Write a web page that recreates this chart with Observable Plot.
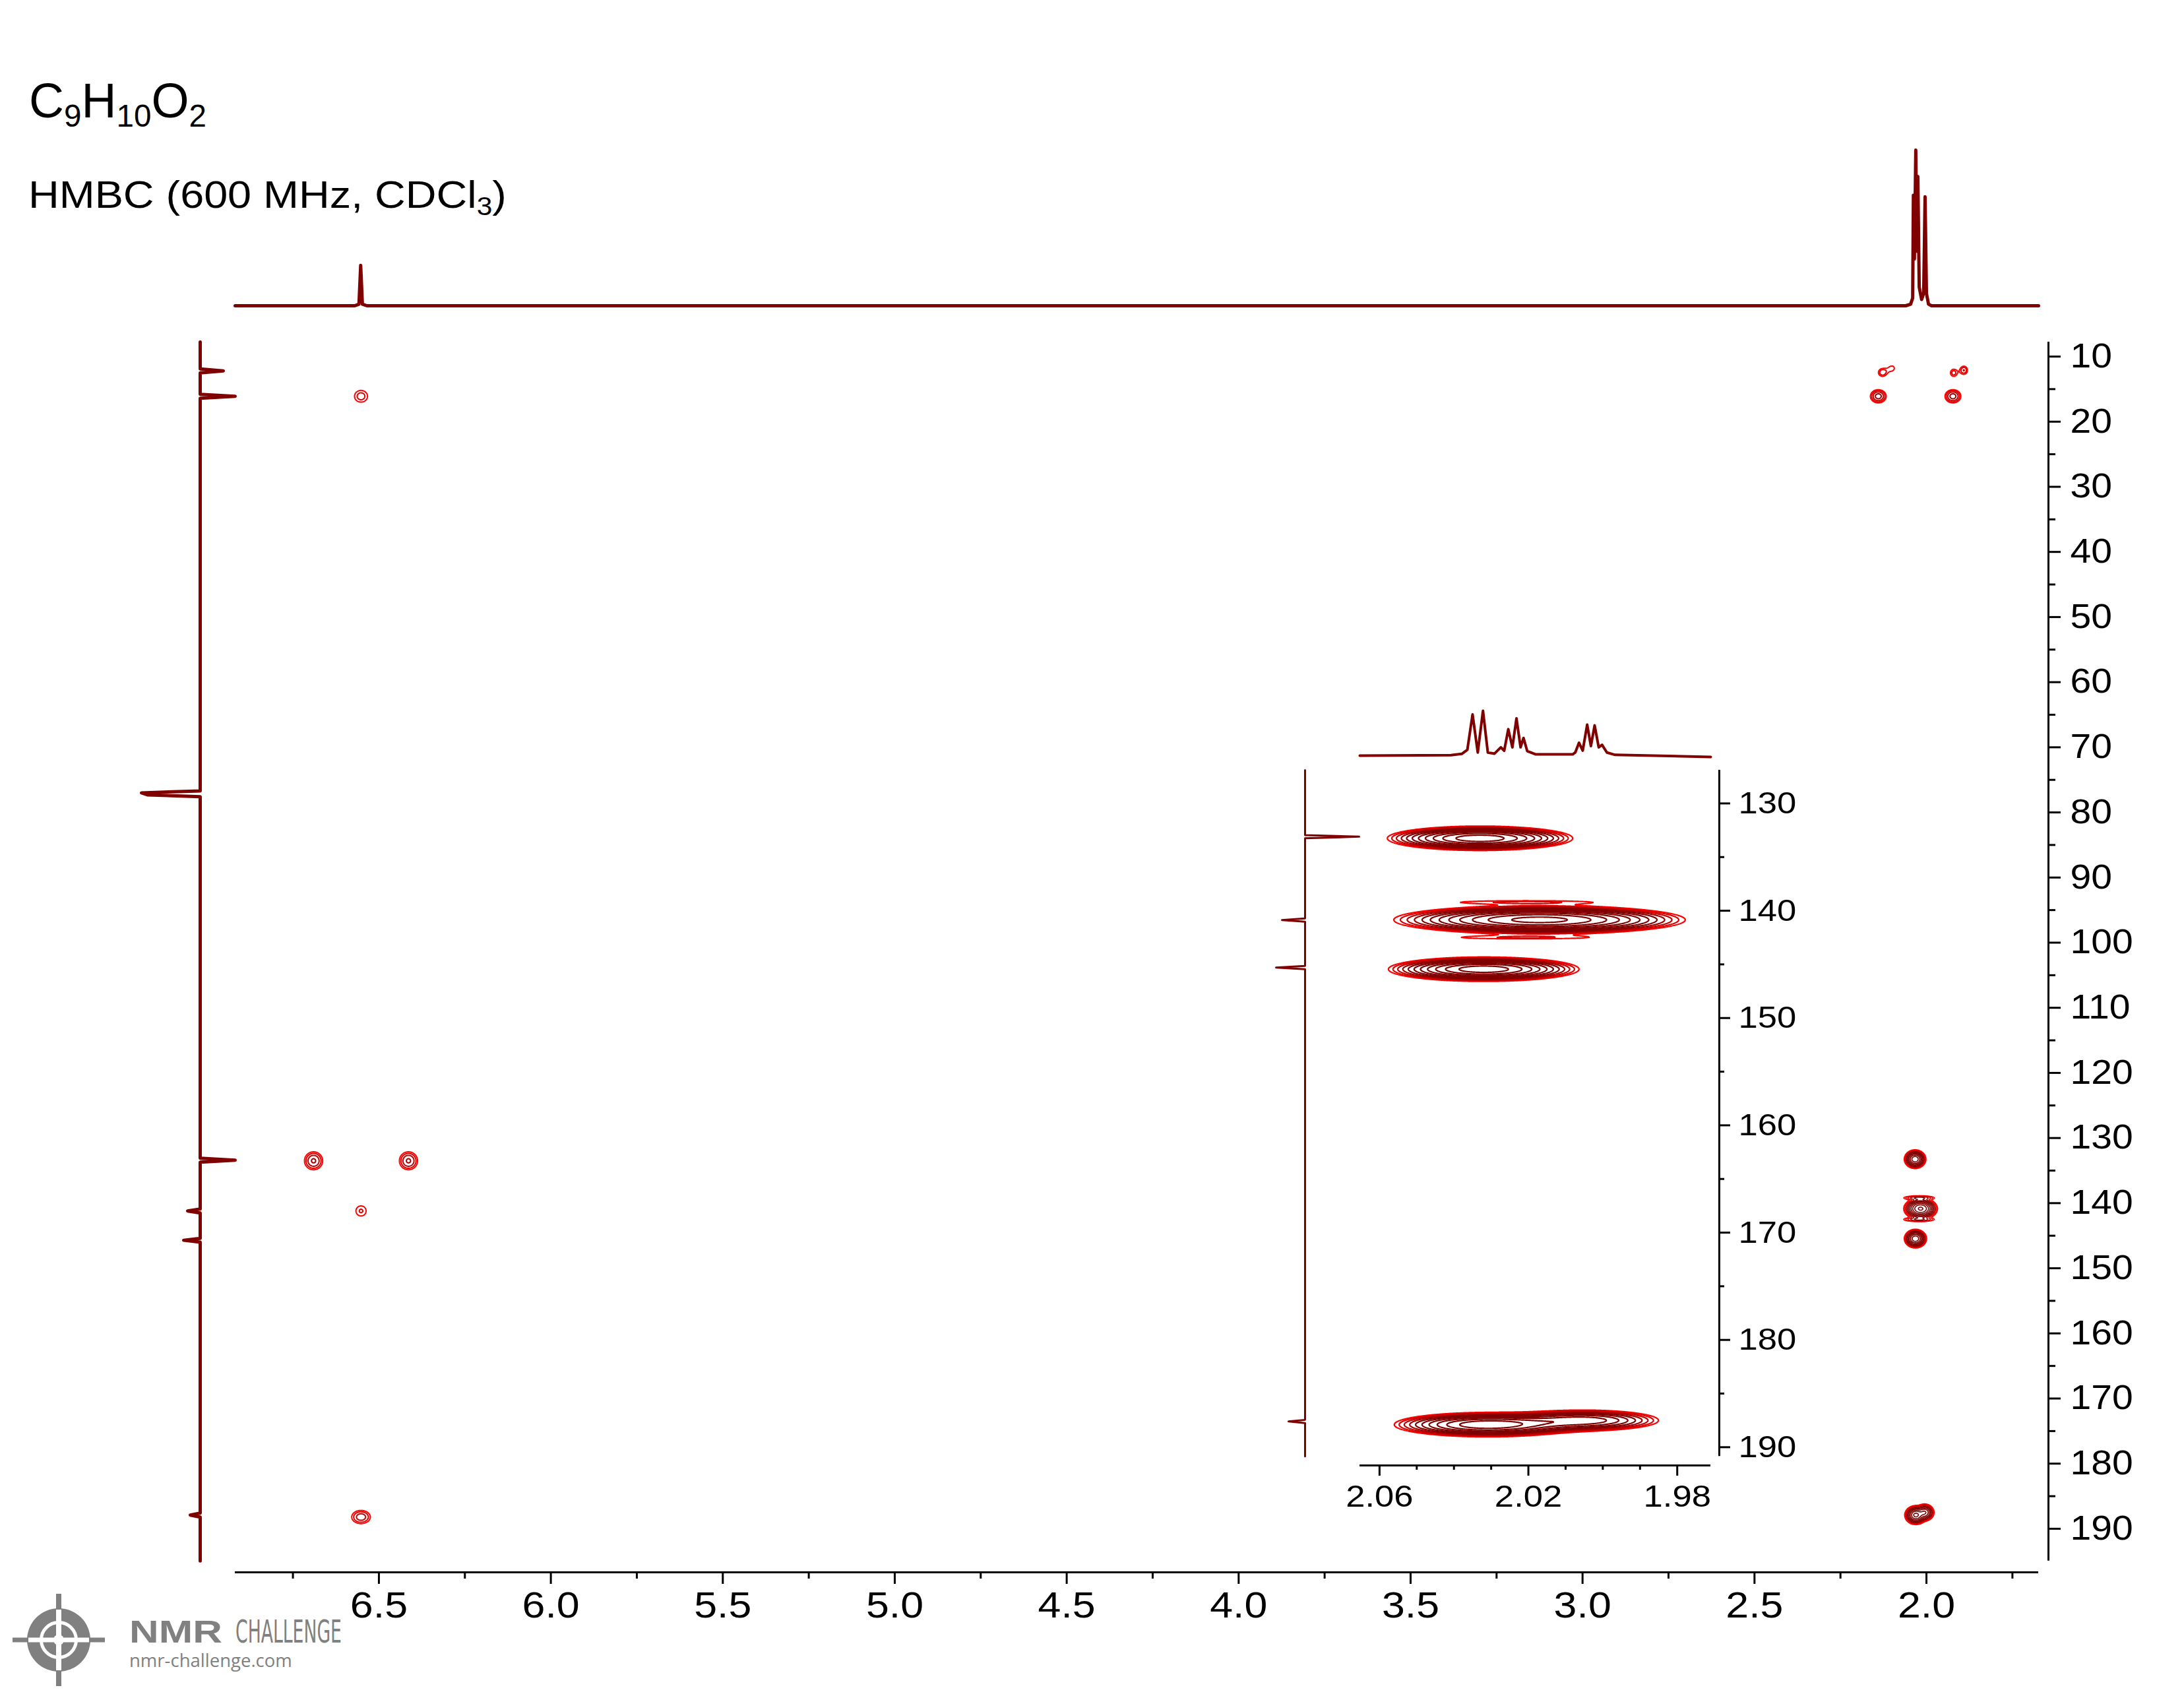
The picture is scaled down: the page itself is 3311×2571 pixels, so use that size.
<!DOCTYPE html>
<html><head><meta charset="utf-8">
<script src="https://cdn.jsdelivr.net/npm/d3@7"></script>
<script src="https://cdn.jsdelivr.net/npm/@observablehq/plot@0.6"></script>
<style>
html,body{margin:0;padding:0;background:#fff;}
#chart{position:relative;width:3311px;height:2571px;background:#fff;overflow:hidden;}
#chart > svg{position:absolute;left:0;top:0;}
</style></head><body><div id="chart"></div>
<script>
// ---------------- DATA ----------------
// 1H projection above the main map (ppm, intensity in % of tallest line)
const hPpm = [6.918, 6.570, 6.558, 6.553, 6.548, 6.535, 2.060, 2.046, 2.040, 2.038, 2.035, 2.031, 2.028, 2.025, 2.021, 2.014, 2.008, 2.004, 2.000, 1.994, 1.985, 1.674];
const hInt = [0, 0, 1, 26, 1, 0, 0, 1, 5, 71, 30, 100, 35, 83, 12, 4, 8, 70, 8, 1, 0, 0];

// 13C projection left of the main map (ppm, signed intensity; negative = to the left)
const cPpm = [7.77, 11.9, 12.2, 12.5, 15.8, 16.1, 16.4, 76.7, 77.0, 77.3, 77.6, 133.1, 133.4, 133.7, 140.9, 141.2, 141.5, 145.4, 145.7, 146.0, 187.6, 187.9, 188.2, 194.95];
const cInt = [0, 0, 35, 0, 0, 53, 0, 0, -89, -80, 0, 0, 53, 0, 0, -19, 0, 0, -25, 0, 0, -15, 0, 0];

// 1H trace above the inset (ppm, % of tallest line)
const ihPpm = [2.0653, 2.0408, 2.0379, 2.0364, 2.0350, 2.0336, 2.0322, 2.0309, 2.0291, 2.0274, 2.0265, 2.0254, 2.0243, 2.0232, 2.0221, 2.0213, 2.0203, 2.0180, 2.0081, 2.0074, 2.0064, 2.0054, 2.0042, 2.0032, 2.0022, 2.0011, 2.0002, 1.9989, 1.9967, 1.9710];
const ihInt = [0, 1, 4, 13, 92, 7, 100, 7, 4.5, 18.6, 11, 59, 18.6, 83, 18.6, 39.4, 10, 2.8, 2.8, 7, 28.7, 11.3, 69, 21.4, 67.5, 18.6, 24, 7, 1.7, -2.8];

// 13C trace left of the inset
const icPpm = [126.9, 132.95, 133.1, 133.25, 140.72, 140.87, 141.02, 145.15, 145.3, 145.45, 187.45, 187.6, 187.75, 190.86];
const icInt = [0, 0, 82, 0, 0, -35, 0, 0, -44, 0, 0, -25, 0, 0];

// HMBC cross peaks: 1H ppm, 13C ppm, amplitude, 1H width, 13C width
const pkH  = [6.552, 6.690, 6.414, 6.552, 6.552, 2.140, 1.923, 2.128, 2.100, 1.921, 1.891, 2.033, 2.017, 2.032, 2.031, 2.005, 2.0215, 2.022];
const pkC  = [16.1, 133.5, 133.5, 141.2, 188.2, 16.1, 16.1, 12.45, 11.8, 12.5, 12.1, 133.25, 140.85, 145.45, 187.9, 187.5, 139.2, 142.5];
const pkA  = [1.5, 2.3, 2.3, 1.35, 2.0, 2.5, 2.5, 1.6, 1.15, 1.5, 1.7, 50, 60, 50, 40, 22, 3.6, 3.5];
const pkSH = [0.021, 0.0205, 0.0205, 0.019, 0.023, 0.017, 0.017, 0.012, 0.012, 0.010, 0.010, 0.0105, 0.016, 0.0108, 0.011, 0.010, 0.0225, 0.0225];
const pkSC = [1.0, 1.07, 1.07, 1.0, 0.86, 0.75, 0.75, 0.6, 0.6, 0.6, 0.6, 0.48, 0.55, 0.48, 0.5, 0.48, 0.17, 0.17];

// axes
const xMain = [6.918, 1.674];
const yMain = [7.77, 196.69];
const yMainEnd = 194.95;
const xMajor = [6.5, 6.0, 5.5, 5.0, 4.5, 4.0, 3.5, 3.0, 2.5, 2.0];
const xMinor = [6.75, 6.25, 5.75, 5.25, 4.75, 4.25, 3.75, 3.25, 2.75, 2.25, 1.75];
const yMajor = [10, 20, 30, 40, 50, 60, 70, 80, 90, 100, 110, 120, 130, 140, 150, 160, 170, 180, 190];
const yMinor = [15, 25, 35, 45, 55, 65, 75, 85, 95, 105, 115, 125, 135, 145, 155, 165, 175, 185];
const xInset = [2.0653, 1.9710];
const yInset = [126.9, 191.7];
const yInsetEnd = 190.86;
const ixMajor = [2.06, 2.02, 1.98];
const ixMinor = [2.05, 2.04, 2.03, 2.01, 2.00, 1.99];
const iyMajor = [130, 140, 150, 160, 170, 180, 190];
const iyMinor = [135, 145, 155, 165, 175, 185];

// ---------------- RENDER ----------------
const W = 3311, H = 2571;
const FONT = "'Liberation Sans', Arial, sans-serif";
const DARK = "#800000", RED = "#ff0000";
const root = document.getElementById("chart");

function geometric(t0, f, n) { const out = []; for (let k = 0, t = t0; k < n; k++, t *= f) out.push(t); return out; }
const levels = geometric(1, 1.3, 24);        // weak peaks in the main map
const strongLevels = geometric(0.5, 1.6, 14); // strong methyl peaks in the main map
const insetLevels = geometric(3, 1.3, 24);

function field(ids) {
  return (h, c) => {
    let s = 0;
    for (const i of ids) {
      const dx = (h - pkH[i]) / pkSH[i], dy = (c - pkC[i]) / pkSC[i];
      const q = dx * dx + dy * dy;
      if (q < 60) s += pkA[i] * Math.exp(-0.5 * q);
    }
    return s;
  };
}
const idx = pkH.map((_, i) => i);
const leftIds = idx.filter(i => pkH[i] > 5);
const satIds = idx.filter(i => pkH[i] < 2.5 && pkC[i] < 30);
const strongIds = idx.filter(i => pkH[i] < 2.5 && pkC[i] > 120);
const insetIds = idx.filter(i => pkH[i] < 2.07 && pkH[i] > 1.97 && pkC[i] > 120);

function base(o) {
  return Plot.plot({width: W, height: H, style: {background: "transparent", fontFamily: FONT, color: "black"}, ...o});
}
// widen the tick labels horizontally around their anchor
function stretch(svg, k) {
  const num = v => v != null && /^\s*-?[\d.]+\s*$/.test(v);
  svg.querySelectorAll("text").forEach(t => {
    const tr = t.getAttribute("transform") || "";
    const xs = t.getAttribute("x"), ys = t.getAttribute("y");
    let x = 0, y = 0;
    if (num(xs)) { x = +xs; t.removeAttribute("x"); }
    if (num(ys)) { y = +ys; t.removeAttribute("y"); }
    t.setAttribute("transform", `${tr} translate(${x},${y}) scale(${k},1)`);
  });
}
function add(svg) { root.appendChild(svg); return svg; }

// main 2D map
const mainSvg = add(base({
  marginLeft: 356, marginRight: 221, marginTop: 518, marginBottom: 188,
  x: {domain: xMain},
  y: {domain: yMain, reverse: true, axis: null},
  color: {type: "log", domain: [1, Math.pow(1.3, 4)], range: [RED, DARK], clamp: true},
  marks: [
    Plot.contour({x1: 6.82, x2: 6.28, y1: 8, y2: 196, stroke: field(leftIds), fill: "none", thresholds: levels, strokeWidth: 2, pixelSize: 1}),
    Plot.contour({x1: 2.23, x2: 1.84, y1: 8, y2: 25, stroke: field(satIds), fill: "none", thresholds: levels, strokeWidth: 2, pixelSize: 1}),
    Plot.contour({x1: 2.15, x2: 1.90, y1: 125, y2: 196, stroke: field(strongIds), fill: "none", thresholds: strongLevels, strokeWidth: 1.6, pixelSize: 1}),
    Plot.ruleY([yMain[1]], {strokeWidth: 3}),
    Plot.axisX({anchor: "bottom", ticks: xMajor, tickFormat: d => d.toFixed(1), tickSize: 18, tickPadding: 11, fontSize: 56, strokeWidth: 3, label: null}),
    Plot.axisX({anchor: "bottom", ticks: xMinor, tickFormat: () => "", tickSize: 10, strokeWidth: 3, label: null})
  ]
}));
stretch(mainSvg, 1.12);

// main y axis (right)
const yAxSvg = add(base({
  marginLeft: 3095, marginRight: 206, marginTop: 518, marginBottom: 188,
  x: {domain: [0, 1], axis: null},
  y: {domain: yMain, reverse: true},
  marks: [
    Plot.ruleX([1], {y1: yMain[0], y2: yMainEnd, strokeWidth: 3}),
    Plot.axisY({anchor: "right", ticks: yMajor, tickSize: 18, tickPadding: 15, fontSize: 51, strokeWidth: 3, label: null}),
    Plot.axisY({anchor: "right", ticks: yMinor, tickFormat: () => "", tickSize: 10, strokeWidth: 3, label: null})
  ]
}));
stretch(yAxSvg, 1.12);

// top 1H projection
add(base({
  marginLeft: 356, marginRight: 221, marginTop: 227, marginBottom: 2108,
  x: {domain: xMain, axis: null},
  y: {domain: [0, 100], axis: null},
  marks: [Plot.line(hPpm.map((p, i) => ({p, v: hInt[i]})), {x: "p", y: "v", stroke: DARK, strokeWidth: 5})]
}));

// left 13C projection
add(base({
  marginLeft: 203, marginRight: 2948, marginTop: 518, marginBottom: 188,
  x: {domain: [-100, 60], axis: null},
  y: {domain: yMain, reverse: true, axis: null},
  marks: [Plot.line(cPpm.map((p, i) => ({p, v: cInt[i]})), {x: "v", y: "p", stroke: DARK, strokeWidth: 5})]
}));

// inset 2D
const insetSvg = add(base({
  marginLeft: 2061, marginRight: 718, marginTop: 1167, marginBottom: 350,
  x: {domain: xInset},
  y: {domain: yInset, reverse: true, axis: null},
  color: {type: "log", domain: [3, 3 * Math.pow(1.3, 4)], range: [RED, DARK], clamp: true},
  marks: [
    Plot.contour({x1: xInset[0], x2: xInset[1], y1: yInset[0], y2: yInset[1], stroke: field(insetIds), fill: "none", thresholds: insetLevels, strokeWidth: 2.2, pixelSize: 1}),
    Plot.ruleY([yInset[1]], {strokeWidth: 3}),
    Plot.axisX({anchor: "bottom", ticks: ixMajor, tickFormat: d => d.toFixed(2), tickSize: 16, tickPadding: 13, fontSize: 47, strokeWidth: 3, label: null}),
    Plot.axisX({anchor: "bottom", ticks: ixMinor, tickFormat: () => "", tickSize: 7, strokeWidth: 3, label: null})
  ]
}));
stretch(insetSvg, 1.12);

// inset y axis
const iyAxSvg = add(base({
  marginLeft: 2600, marginRight: 705, marginTop: 1167, marginBottom: 350,
  x: {domain: [0, 1], axis: null},
  y: {domain: yInset, reverse: true},
  marks: [
    Plot.ruleX([1], {y1: yInset[0], y2: yInsetEnd, strokeWidth: 3}),
    Plot.axisY({anchor: "right", ticks: iyMajor, tickSize: 16, tickPadding: 13, fontSize: 47, strokeWidth: 3, label: null}),
    Plot.axisY({anchor: "right", ticks: iyMinor, tickFormat: () => "", tickSize: 7, strokeWidth: 3, label: null})
  ]
}));
stretch(iyAxSvg, 1.12);

// inset 1H trace
add(base({
  marginLeft: 2061, marginRight: 718, marginTop: 1077, marginBottom: 1426,
  x: {domain: xInset, axis: null},
  y: {domain: [0, 100], axis: null},
  marks: [Plot.line(ihPpm.map((p, i) => ({p, v: ihInt[i]})), {x: "p", y: "v", stroke: DARK, strokeWidth: 4})]
}));

// inset 13C trace
add(base({
  marginLeft: 1928, marginRight: 1243, marginTop: 1167, marginBottom: 350,
  x: {domain: [-50, 90], axis: null},
  y: {domain: yInset, reverse: true, axis: null},
  marks: [Plot.line(icPpm.map((p, i) => ({p, v: icInt[i]})), {x: "v", y: "p", stroke: DARK, strokeWidth: 3})]
}));

// ---------------- titles and logo ----------------
const deco = d3.create("svg").attr("width", W).attr("height", H);
root.appendChild(deco.node());

// fit a text to a given width with a horizontal scale (keeps the bounding box honest)
function fitText(sel, x, y, width) {
  sel.attr("x", 0).attr("y", 0);
  const len = sel.node().getComputedTextLength() || width;
  sel.attr("transform", `translate(${x},${y}) scale(${width / len},1)`);
  return sel;
}

const t1 = deco.append("text").attr("font-family", FONT).attr("font-size", 74);
[["C", 0], ["9", 1], ["H", 0], ["10", 1], ["O", 0], ["2", 1]].forEach(([s, sub], i, a) => {
  const prevSub = i > 0 ? a[i - 1][1] : 0;
  t1.append("tspan").attr("font-size", sub ? 48 : 74).attr("dy", sub && !prevSub ? 14 : (!sub && prevSub ? -14 : 0)).text(s);
});
fitText(t1, 44, 178, 269);
const t2 = deco.append("text").attr("font-family", FONT).attr("font-size", 58);
t2.append("tspan").text("HMBC (600 MHz, CDCl");
t2.append("tspan").attr("font-size", 38).attr("dy", 11).text("3");
t2.append("tspan").attr("dy", -11).text(")");
fitText(t2, 43, 315, 725);

// logo
const G = "#808080";
const lg = deco.append("g");
const cx = 89, cy = 2486;
lg.append("rect").attr("x", cx - 70).attr("y", cy - 3.5).attr("width", 140).attr("height", 7).attr("fill", G);
lg.append("rect").attr("x", cx - 4).attr("y", cy - 70).attr("width", 8).attr("height", 140).attr("fill", G);
lg.append("circle").attr("cx", cx).attr("cy", cy).attr("r", 48).attr("fill", G);
lg.append("circle").attr("cx", cx).attr("cy", cy).attr("r", 26.5).attr("fill", "none").attr("stroke", "#fff").attr("stroke-width", 5);
lg.append("rect").attr("x", cx - 46).attr("y", cy - 3.5).attr("width", 92).attr("height", 7).attr("fill", "#fff");
lg.append("rect").attr("x", cx - 4).attr("y", cy - 46).attr("width", 8).attr("height", 92).attr("fill", "#fff");
lg.append("circle").attr("cx", cx).attr("cy", cy).attr("r", 8).attr("fill", "#fff");
fitText(lg.append("text").attr("font-family", FONT).attr("font-weight", "bold").attr("font-size", 48)
  .attr("fill", G).text("NMR"), 196, 2490, 141);
fitText(lg.append("text").attr("font-family", "'Liberation Sans Narrow', 'DejaVu Sans Condensed', " + FONT).attr("font-size", 48)
  .attr("fill", G).text("CHALLENGE"), 357, 2490, 161);
fitText(lg.append("text").attr("font-family", "'Open Sans', " + FONT).attr("font-size", 27)
  .attr("fill", G).text("nmr-challenge.com"), 196, 2527, 247);
</script>
</body></html>
